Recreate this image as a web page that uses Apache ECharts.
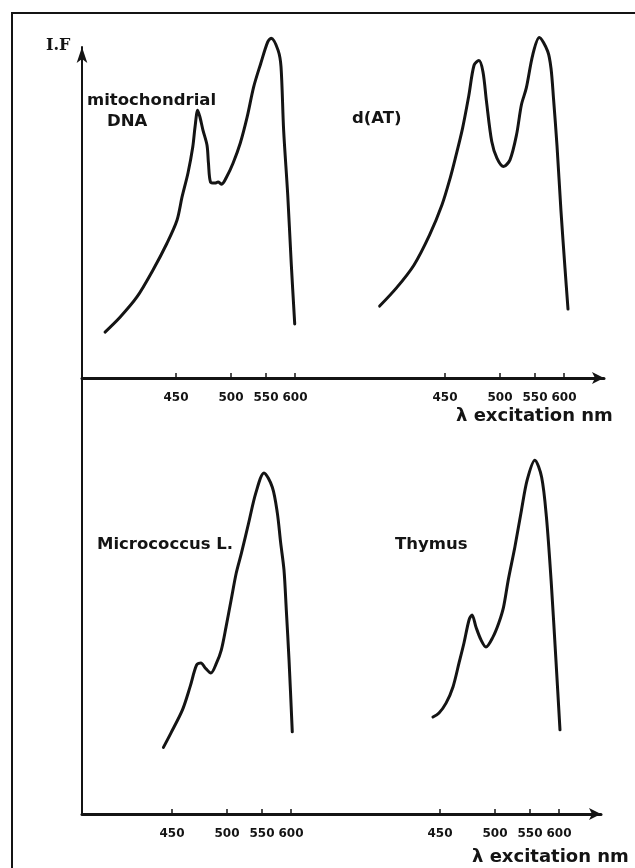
<!DOCTYPE html>
<html>
<head>
<meta charset="utf-8">
<script src="https://cdn.jsdelivr.net/npm/echarts@6/dist/echarts.min.js"></script>
<style>
html, body { margin: 0; padding: 0; background: #ffffff; }
#chart { width: 635px; height: 868px; }
</style>
</head>
<body>
<div id="chart"></div>
<script>
// Excitation wavelength (nm) and fluorescence intensity (arbitrary units) per sample
const mitoNm = [385.5, 399.1, 414.5, 429.1, 441.8, 450.9, 455.5, 460.9, 465.2, 467.3, 469.7, 471.8, 474.5, 478.2, 479.5, 481.4, 485.5, 488.2, 491.5, 496.1, 502.9, 513.2, 523.1, 532.4, 542.6, 553.0, 558.9, 570.9, 575.9, 580.4, 587.5, 593.4, 599.5];
const mitoIF = [13.6, 18.0, 24.0, 32.0, 39.9, 46.7, 53.6, 60.7, 68.3, 74.3, 79.3, 77.2, 73.4, 68.9, 63.6, 58.0, 57.7, 58.0, 57.4, 59.6, 63.6, 69.5, 77.3, 86.2, 93.2, 99.5, 100.6, 97.0, 92.1, 73.4, 54.1, 34.3, 16.0];

const datNm = [390.6, 405.7, 421.7, 435.9, 447.2, 454.7, 459.4, 466.0, 471.7, 476.4, 480.8, 484.5, 487.7, 492.5, 497.2, 505.1, 514.3, 523.6, 530.6, 537.5, 546.8, 557.4, 571.9, 577.6, 581.9, 587.9, 594.8, 601.7, 606.9];
const datIF = [21.3, 26.6, 33.4, 42.3, 51.2, 59.2, 65.1, 74.0, 83.7, 92.6, 94.0, 90.7, 81.9, 70.0, 65.1, 62.6, 64.6, 72.0, 80.9, 85.8, 95.7, 100.8, 96.7, 91.7, 82.8, 68.9, 49.4, 32.5, 20.4];

const microNm = [442.2, 449.1, 459.5, 466.4, 472.4, 476.3, 480.2, 485.3, 490.5, 494.8, 499.1, 505.9, 513.2, 520.6, 530.9, 541.2, 553.4, 567.8, 576.4, 582.2, 587.9, 591.9, 596.6, 602.2];
const microIF = [19.7, 24.0, 30.8, 37.6, 44.1, 44.7, 43.2, 41.7, 44.7, 48.5, 55.3, 63.3, 71.3, 77.2, 86.1, 95.0, 100.9, 96.7, 89.1, 80.2, 72.2, 60.4, 45.6, 24.3];

const thymNm = [443.6, 449.1, 455.5, 461.8, 467.3, 471.8, 476.4, 479.1, 482.7, 487.3, 491.8, 498.2, 505.4, 512.2, 518.9, 528.4, 537.8, 545.9, 558.3, 570.0, 578.3, 586.7, 595.0, 601.7];
const thymIF = [28.7, 29.9, 32.8, 37.6, 44.7, 50.6, 57.4, 58.9, 55.3, 51.5, 49.4, 52.4, 56.5, 61.2, 69.2, 79.0, 89.9, 98.8, 104.7, 99.7, 87.9, 68.3, 44.7, 24.9];

// Wavelength ticks and their place on the (non-linear) excitation scale
const tickNm = [450, 500, 550, 600];
const tickPos = [0, 55, 90, 119];

const panelLabels = ['mitochondrial\nDNA', 'd(AT)', 'Micrococcus L.', 'Thymus'];
const axisTitle = 'λ excitation nm';
const yTitle = 'I.F';

// piecewise scale: wavelength -> position along the excitation axis
function scalePos(nm) {
  let i = 0;
  if (nm >= tickNm[2]) i = 2;
  else if (nm >= tickNm[1]) i = 1;
  const slope = (tickPos[i + 1] - tickPos[i]) / (tickNm[i + 1] - tickNm[i]);
  return tickPos[i] + (nm - tickNm[i]) * slope;
}

const INK = '#141414';
const SANS = 'DejaVu Sans';

// panel boxes: left, top, width, height, pixel of the 450 tick, y max
const panels = [
  { left: 82,  top: 47,  width: 248, height: 331, at450: 176, ymax: 98,  arrowX: false, yLine: true,  yArrow: true },
  { left: 330, top: 47,  width: 274, height: 331, at450: 445, ymax: 98,  arrowX: true,  yLine: false, yArrow: false },
  { left: 82,  top: 378, width: 248, height: 436, at450: 172, ymax: 129, arrowX: false, yLine: true,  yArrow: false },
  { left: 330, top: 378, width: 271, height: 436, at450: 440, ymax: 129, arrowX: true,  yLine: false, yArrow: false }
];

const seriesData = [[mitoNm, mitoIF], [datNm, datIF], [microNm, microIF], [thymNm, thymIF]];

const grids = panels.map(p => ({
  left: p.left, top: p.top, width: p.width, height: p.height,
  containLabel: false, outerBoundsMode: 'none'
}));

const xAxes = panels.map((p, i) => {
  const min = p.left - p.at450;
  return {
    gridIndex: i, type: 'value', min: min, max: min + p.width,
    axisLine: {
      show: true, onZero: false,
      symbol: p.arrowX ? ['none', 'arrow'] : 'none',
      symbolSize: [9, 12],
      lineStyle: { color: INK, width: 3 }
    },
    axisTick: {
      show: true, inside: true, length: 5, customValues: tickPos,
      lineStyle: { color: INK, width: 1.5 }
    },
    axisLabel: {
      show: true, customValues: tickPos, margin: 14,
      fontFamily: SANS, fontWeight: 'bold', fontSize: 12, color: INK,
      formatter: v => {
        const k = tickPos.findIndex(t => Math.abs(t - v) < 0.01);
        return k >= 0 ? String(tickNm[k]) : '';
      }
    },
    splitLine: { show: false }
  };
});

const yAxes = panels.map((p, i) => ({
  gridIndex: i, type: 'value', min: 0, max: p.ymax,
  axisLine: {
    show: p.yLine, onZero: false,
    symbol: p.yArrow ? ['none', 'arrow'] : 'none',
    symbolSize: [8, 16],
    lineStyle: { color: INK, width: 2 }
  },
  axisTick: { show: false },
  axisLabel: { show: false },
  splitLine: { show: false }
}));

const series = seriesData.map((d, i) => ({
  type: 'line',
  xAxisIndex: i, yAxisIndex: i,
  data: d[0].map((w, k) => [scalePos(w), d[1][k]]),
  smooth: 0.3,
  symbol: 'none',
  clip: false,
  lineStyle: { color: INK, width: 3, join: 'round', cap: 'round' }
}));

function label(text, x, y, size, family) {
  return {
    type: 'text', x: x, y: y, silent: true,
    style: {
      text: text, fill: INK, fontFamily: family || SANS, fontWeight: 'bold',
      fontSize: size, align: 'left', verticalAlign: 'middle', lineHeight: size * 1.3
    }
  };
}

const graphics = [
  // outer frame of the figure
  { type: 'rect', silent: true, z: -1,
    shape: { x: 12, y: 13, width: 700, height: 900 },
    style: { fill: 'none', stroke: INK, lineWidth: 2 } },
  label(yTitle, 46, 46, 16, 'DejaVu Serif'),
  label('mitochondrial', 87, 101, 16.5),
  label('DNA', 107, 122, 16.5),
  label(panelLabels[1], 352, 119, 16.5),
  label(panelLabels[2], 97, 545, 16.5),
  label(panelLabels[3], 395, 545, 16.5),
  label(axisTitle, 456, 416, 18),
  label(axisTitle, 472, 857, 18)
];

const chart = echarts.init(document.getElementById('chart'), null, { renderer: 'canvas' });
chart.setOption({
  animation: false,
  backgroundColor: '#ffffff',
  grid: grids,
  xAxis: xAxes,
  yAxis: yAxes,
  series: series,
  graphic: graphics
});
</script>
</body>
</html>
